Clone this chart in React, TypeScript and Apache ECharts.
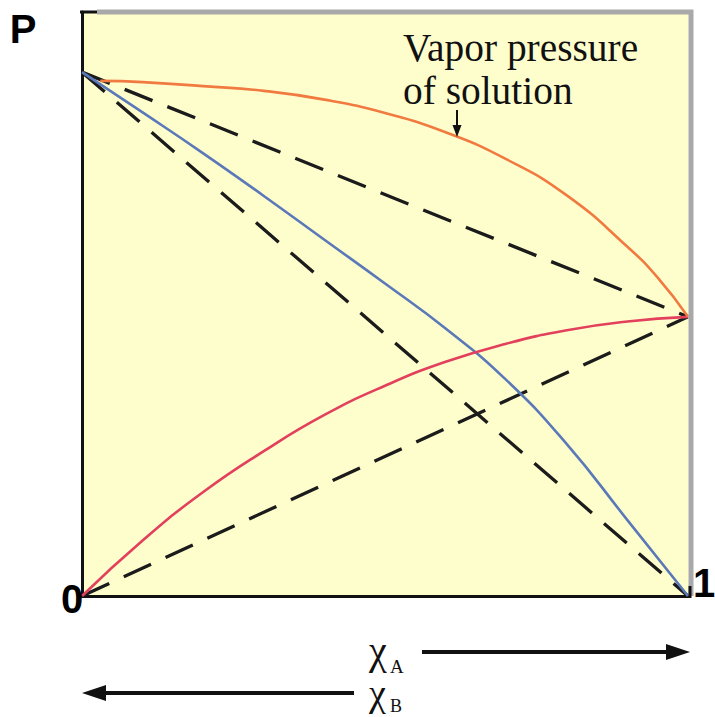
import React, { useEffect, useRef } from "react";
import * as echarts from "echarts";

// Mole-fraction positions (χA) and pressures
const idealBX = [0, 1];
const idealBY = [0.897, 0];
const idealAX = [0, 1];
const idealAY = [0, 0.478];
const idealTotalX = [0, 1];
const idealTotalY = [0.897, 0.478];

const solutionX = [0.03, 0.1, 0.2, 0.3, 0.4, 0.5, 0.6, 0.7, 0.8, 0.9, 0.95, 1];
const solutionY = [0.882, 0.88, 0.873, 0.865, 0.85, 0.827, 0.794, 0.748, 0.686, 0.598, 0.545, 0.478];

const partialBX = [0, 0.1, 0.2, 0.3, 0.4, 0.5, 0.6, 0.7, 0.8, 0.9, 1];
const partialBY = [0.897, 0.828, 0.758, 0.685, 0.61, 0.535, 0.458, 0.37, 0.26, 0.13, 0];

const partialAX = [0, 0.1, 0.2, 0.3, 0.4, 0.5, 0.6, 0.7, 0.8, 0.9, 1];
const partialAY = [0, 0.095, 0.178, 0.248, 0.31, 0.36, 0.401, 0.432, 0.455, 0.47, 0.478];

const axisLabels = { p: "P", zero: "0", one: "1" };
const noteLines = ["Vapor pressure", "of solution"];

const zip = (xs: number[], ys: number[]) => xs.map((x, i) => [x, ys[i]]);

const SERIF = "'Liberation Serif', 'Times New Roman', serif";
const SANS = "'Liberation Sans', Arial, sans-serif";

export default function App() {
  const ref = useRef<HTMLDivElement>(null);
  useEffect(() => {
    if (!ref.current) return;
    const chart = echarts.init(ref.current, undefined, { renderer: "svg" });
    const dashed = (data: number[][]) => ({
      type: "line",
      data,
      showSymbol: false,
      silent: true,
      z: 2,
      lineStyle: { color: "#1b1b1b", width: 3.3, type: [30, 16], cap: "butt" },
    });
    const curve = (data: number[][], color: string) => ({
      type: "line",
      data,
      smooth: 0.5,
      showSymbol: false,
      silent: true,
      z: 3,
      lineStyle: { color, width: 2.6 },
    });
    const txt = (text: string, x: number, y: number, font: string, extra: any = {}) => ({
      type: "text",
      x,
      y,
      z: 11,
      ...extra,
      style: { text, font, fill: "#111", align: "left", verticalAlign: "middle", ...(extra.style || {}) },
    });
    chart.setOption({
      animation: false,
      backgroundColor: "#ffffff",
      grid: {
        left: 82,
        top: 12,
        width: 606,
        height: 584,
        show: true,
        backgroundColor: "#fefecd",
        borderWidth: 0,
      },
      xAxis: {
        type: "value",
        min: 0,
        max: 1,
        axisLine: { show: true, onZero: false, lineStyle: { color: "#111", width: 3 } },
        axisTick: { show: false },
        axisLabel: { show: false },
        splitLine: { show: false },
      },
      yAxis: {
        type: "value",
        min: 0,
        max: 1,
        axisLine: { show: true, onZero: false, lineStyle: { color: "#111", width: 3 } },
        axisTick: { show: false },
        axisLabel: { show: false },
        splitLine: { show: false },
      },
      series: [
        dashed(zip(idealBX, idealBY)),
        dashed(zip(idealAX, idealAY)),
        dashed(zip(idealTotalX, idealTotalY)),
        curve(zip(partialBX, partialBY), "#5b78b8"),
        curve(zip(partialAX, partialAY), "#e2405c"),
        curve(zip(solutionX, solutionY), "#f07a40"),
      ],
      graphic: [
        // gray frame on top and right
        {
          type: "polyline",
          shape: { points: [[97, 12], [691, 12], [691, 596]] },
          style: { stroke: "#a9a9a9", lineWidth: 5, fill: null },
          z: 10,
        },
        {
          type: "line",
          shape: { x1: 80, y1: 12, x2: 97, y2: 12 },
          style: { stroke: "#111", lineWidth: 3 },
          z: 11,
        },
        {
          type: "line",
          shape: { x1: 690, y1: 586, x2: 690, y2: 598 },
          style: { stroke: "#111", lineWidth: 3 },
          z: 11,
        },
        // axis markers
        txt(axisLabels.p, 23, 29, `bold 40px ${SANS}`, { style: { align: "center", fill: "#000" } }),
        txt(axisLabels.zero, 72, 599, `bold 40px ${SANS}`, { style: { align: "center", fill: "#000" } }),
        txt(axisLabels.one, 704, 583, `bold 40px ${SANS}`, { style: { align: "center", fill: "#000" } }),
        // annotation
        txt(noteLines[0], 403, 48, `40px ${SERIF}`, { scaleX: 0.985 }),
        txt(noteLines[1], 403, 91, `40px ${SERIF}`, { scaleX: 0.985 }),
        {
          type: "line",
          shape: { x1: 457, y1: 110, x2: 457, y2: 128 },
          style: { stroke: "#111", lineWidth: 2 },
          z: 11,
        },
        {
          type: "polygon",
          shape: { points: [[452.5, 125], [461.5, 125], [457, 137]] },
          style: { fill: "#111" },
          z: 11,
        },
        // χA arrow
        txt("χ", 369, 650, `40px ${SERIF}`),
        txt("A", 390, 666, `19px ${SERIF}`),
        {
          type: "line",
          shape: { x1: 422, y1: 652, x2: 672, y2: 652 },
          style: { stroke: "#111", lineWidth: 4 },
          z: 11,
        },
        {
          type: "polygon",
          shape: { points: [[666, 644], [690, 652], [666, 660]] },
          style: { fill: "#111" },
          z: 11,
        },
        // χB arrow
        txt("χ", 369, 693, `38px ${SERIF}`),
        txt("B", 390, 706, `18px ${SERIF}`),
        {
          type: "line",
          shape: { x1: 100, y1: 693, x2: 354, y2: 693 },
          style: { stroke: "#111", lineWidth: 4 },
          z: 11,
        },
        {
          type: "polygon",
          shape: { points: [[106, 685], [82, 693], [106, 701]] },
          style: { fill: "#111" },
          z: 11,
        },
      ],
    });
    return () => chart.dispose();
  }, []);
  return (
    <div
      ref={ref}
      style={{ position: "absolute", left: 0, top: 0, width: 715, height: 717 }}
    />
  );
}
